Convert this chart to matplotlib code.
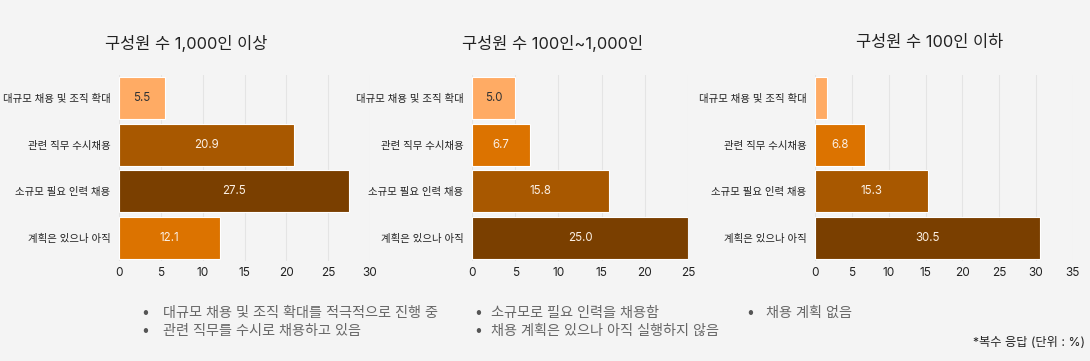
import numpy as np
import matplotlib.pyplot as plt

plt.rcParams['font.family'] = ['Inter', 'Noto Sans CJK KR', 'DejaVu Sans']

categories = ['대규모 채용 및 조직 확대', '관련 직무 수시채용', '소규모 필요 인력 채용', '계획은 있으나 아직']
panel_titles = ['구성원 수 1,000인 이상', '구성원 수 100인~1,000인', '구성원 수 100인 이하']
values_large = [5.5, 20.9, 27.5, 12.1]
values_mid = [5.0, 6.7, 15.8, 25.0]
values_small = [1.6, 6.8, 15.3, 30.5]
xlims = [30, 25, 35]
legend_col1 = ['대규모 채용 및 조직 확대를 적극적으로 진행 중', '관련 직무를 수시로 채용하고 있음']
legend_col2 = ['소규모로 필요 인력을 채용함', '채용 계획은 있으나 아직 실행하지 않음']
legend_col3 = ['채용 계획 없음']
footnote = '*복수 응답 (단위 : %)'

# colours go from light to dark by rank within each panel
rank_colors = ['#FFAB64', '#DC7300', '#A85800', '#7A3F00']
bg = '#F4F4F4'

fig = plt.figure(figsize=(10.9, 3.61), dpi=100, facecolor=bg)

W, H = 1090, 361
boxes = [(119, 370), (472, 688), (815, 1073)]
title_x = [186, 553, 930]
ax_top, ax_bot = 75, 261

for vals, (x0, x1), title, tx, xmax in zip(
        [values_large, values_mid, values_small], boxes, panel_titles, title_x, xlims):
    ax = fig.add_axes([x0 / W, 1 - ax_bot / H, (x1 - x0) / W, (ax_bot - ax_top) / H])
    ax.set_facecolor(bg)
    order = np.argsort(vals)
    colors = [None] * len(vals)
    for r, i in enumerate(order):
        colors[i] = rank_colors[r]
    y = np.arange(len(categories))
    ax.barh(y, vals, height=0.9, color=colors, edgecolor='white', linewidth=0.8, zorder=3)
    for yi, v, c in zip(y, vals, colors):
        if v < 3:
            continue  # too narrow for a label
        tc = '#333333' if c == rank_colors[0] else '#FBEFE3'
        ax.text(v / 2, yi, f'{v:.1f}', ha='center', va='center', fontsize=8.3, color=tc, zorder=4)
    ax.set_xlim(0, xmax)
    ax.set_ylim(len(categories) - 0.5, -0.5)
    ax.set_xticks(np.arange(0, xmax + 1, 5))
    ax.set_yticks(y)
    ax.set_yticklabels(categories, fontsize=7.5, color='#222222')
    ax.tick_params(axis='x', labelsize=8.5, colors='#222222', length=0, pad=4)
    ax.tick_params(axis='y', length=0, pad=6)
    for s in ax.spines.values():
        s.set_visible(False)
    ax.grid(axis='x', color='#E4E4E4', linewidth=0.8, zorder=0)
    ax.set_axisbelow(True)
    fig.text(tx / W, 1 - 43 / H, title, ha='center', va='center', fontsize=11.8, color='#222222')

legend_cols = [(145, 163, legend_col1), (478, 491, legend_col2), (750, 766, legend_col3)]
for bx, tx, items in legend_cols:
    for k, item in enumerate(items):
        yy = 1 - (313 + 18 * k) / H
        fig.text(bx / W, yy, '•', ha='center', va='center', fontsize=10, color='#555555')
        fig.text(tx / W, yy, item, ha='left', va='center', fontsize=10.2, color='#666666')

fig.text(1085 / W, 1 - 343 / H, footnote, ha='right', va='center', fontsize=8.8, color='#222222')

fig.savefig('out.png', dpi=100, facecolor=bg)
